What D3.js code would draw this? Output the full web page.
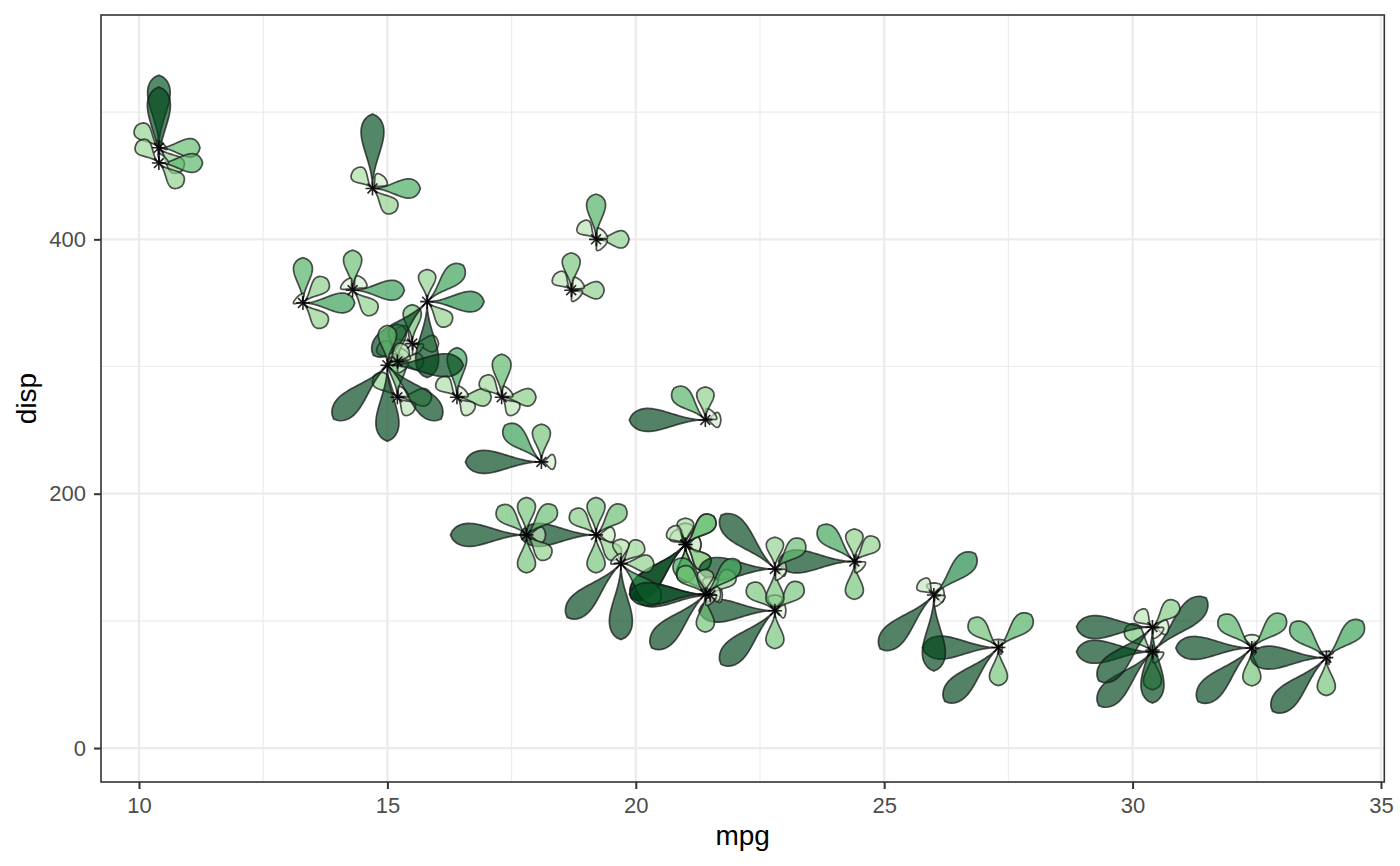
<!DOCTYPE html>
<html>
<head>
<meta charset="utf-8">
<script src="https://cdn.jsdelivr.net/npm/d3@7"></script>
<style>
  body { margin: 0; background: #fff; }
  text { font-family: "Liberation Sans", Arial, Helvetica, sans-serif; }
</style>
</head>
<body>
<div id="chart"></div>
<script>
// mtcars, one flower per car: x = mpg, y = disp, petals = the other columns
var cars = ["Mazda RX4", "Mazda RX4 Wag", "Datsun 710", "Hornet 4 Drive", "Hornet Sportabout",
  "Valiant", "Duster 360", "Merc 240D", "Merc 230", "Merc 280", "Merc 280C", "Merc 450SE",
  "Merc 450SL", "Merc 450SLC", "Cadillac Fleetwood", "Lincoln Continental", "Chrysler Imperial",
  "Fiat 128", "Honda Civic", "Toyota Corolla", "Toyota Corona", "Dodge Challenger", "AMC Javelin",
  "Camaro Z28", "Pontiac Firebird", "Fiat X1-9", "Porsche 914-2", "Lotus Europa", "Ford Pantera L",
  "Ferrari Dino", "Maserati Bora", "Volvo 142E"];
var mpg  = [21.0, 21.0, 22.8, 21.4, 18.7, 18.1, 14.3, 24.4, 22.8, 19.2, 17.8, 16.4, 17.3, 15.2, 10.4, 10.4,
  14.7, 32.4, 30.4, 33.9, 21.5, 15.5, 15.2, 13.3, 19.2, 27.3, 26.0, 30.4, 15.8, 19.7, 15.0, 21.4];
var disp = [160, 160, 108, 258, 360, 225, 360, 146.7, 140.8, 167.6, 167.6, 275.8, 275.8, 275.8, 472, 460,
  440, 78.7, 75.7, 71.1, 120.1, 318, 304, 350, 400, 79, 120.3, 95.1, 351, 145, 301, 121];
var hp   = [110, 110, 93, 110, 175, 105, 245, 62, 95, 123, 123, 180, 180, 180, 205, 215,
  230, 66, 52, 65, 97, 150, 150, 245, 175, 66, 91, 113, 264, 175, 335, 109];
var drat = [3.90, 3.90, 3.85, 3.08, 3.15, 2.76, 3.21, 3.69, 3.92, 3.92, 3.92, 3.07, 3.07, 3.07, 2.93, 3.00,
  3.23, 4.08, 4.93, 4.22, 3.70, 2.76, 3.15, 3.73, 3.08, 4.08, 4.43, 3.77, 4.22, 3.62, 3.54, 4.11];
var wt   = [2.620, 2.875, 2.320, 3.215, 3.440, 3.460, 3.570, 3.190, 3.150, 3.440, 3.440, 4.070, 3.730, 3.780,
  5.250, 5.424, 5.345, 2.200, 1.615, 1.835, 2.465, 3.520, 3.435, 3.840, 3.845, 1.935, 2.140, 1.513,
  3.170, 2.770, 3.570, 2.780];
var qsec = [16.46, 17.02, 18.61, 19.44, 17.02, 20.22, 15.84, 20.00, 22.90, 18.30, 18.90, 17.40, 17.60, 18.00,
  17.98, 17.82, 17.42, 19.47, 18.52, 19.90, 20.01, 16.87, 17.30, 15.41, 17.05, 18.90, 16.70, 16.90,
  14.50, 15.50, 14.60, 18.60];
var vs   = [0, 0, 1, 1, 0, 1, 0, 1, 1, 1, 1, 0, 0, 0, 0, 0, 0, 1, 1, 1, 1, 0, 0, 0, 0, 1, 0, 1, 0, 0, 0, 1];
var am   = [1, 1, 1, 0, 0, 0, 0, 0, 0, 0, 0, 0, 0, 0, 0, 0, 0, 1, 1, 1, 0, 0, 0, 0, 0, 1, 1, 1, 1, 1, 1, 1];
var gear = [4, 4, 4, 3, 3, 3, 3, 4, 4, 4, 4, 3, 3, 3, 3, 3, 3, 4, 4, 4, 3, 3, 3, 3, 3, 4, 5, 5, 5, 5, 5, 4];
var carb = [4, 4, 1, 1, 2, 1, 4, 2, 2, 4, 4, 3, 3, 3, 4, 4, 4, 1, 2, 1, 1, 2, 2, 4, 2, 1, 2, 2, 4, 6, 8, 2];

// petals go counter-clockwise from 3 o'clock, one every 45 degrees
var petalCols = [hp, drat, wt, qsec, vs, am, gear, carb];

var xTicks = [10, 15, 20, 25, 30, 35];
var yTicks = [0, 200, 400];

var width = 1400, height = 866;
var panel = {left: 101, right: 1384.3, top: 15, bottom: 782};

var svg = d3.select("#chart")
    .append("svg")
    .attr("width", width)
    .attr("height", height);

var x = d3.scaleLinear()
    .domain([9.235, 35.067])
    .range([panel.left, panel.right]);
var y = d3.scaleLinear()
    .domain([-26.7, 576.4])
    .range([panel.bottom, panel.top]);

// grid
var xMinor = d3.range(12.5, 35, 5);
var yMinor = [100, 300, 500];
var grid = svg.append("g");
grid.selectAll("line.xminor").data(xMinor).enter().append("line")
    .attr("x1", d => x(d)).attr("x2", d => x(d))
    .attr("y1", panel.top).attr("y2", panel.bottom)
    .attr("stroke", "#ebebeb").attr("stroke-width", 1.1);
grid.selectAll("line.yminor").data(yMinor).enter().append("line")
    .attr("y1", d => y(d)).attr("y2", d => y(d))
    .attr("x1", panel.left).attr("x2", panel.right)
    .attr("stroke", "#ebebeb").attr("stroke-width", 1.1);
grid.selectAll("line.xmajor").data(xTicks).enter().append("line")
    .attr("x1", d => x(d)).attr("x2", d => x(d))
    .attr("y1", panel.top).attr("y2", panel.bottom)
    .attr("stroke", "#ebebeb").attr("stroke-width", 2.2);
grid.selectAll("line.ymajor").data(yTicks).enter().append("line")
    .attr("y1", d => y(d)).attr("y2", d => y(d))
    .attr("x1", panel.left).attr("x2", panel.right)
    .attr("stroke", "#ebebeb").attr("stroke-width", 2.2);

// normalise every petal column to 0..1
var scaled = petalCols.map(function (col) {
    var s = d3.scaleLinear().domain(d3.extent(col)).range([0, 1]);
    return col.map(s);
});

// teardrop petal along +x, length L, half width w
var N = 40, pa = 2.2, pb = 0.7;
var tMax = pa / (pa + pb);
var fMax = Math.pow(tMax, pa) * Math.pow(1 - tMax, pb);
var petalLine = d3.line().curve(d3.curveLinearClosed);
function petalPath(L, w) {
    var up = [], down = [];
    for (var k = 0; k <= N; k++) {
        var t = k / N;
        var h = w * Math.pow(t, pa) * Math.pow(1 - t, pb) / fMax;
        up.push([L * t, -h]);
        down.push([L * t, h]);
    }
    return petalLine(up.concat(down.reverse()));
}

var flowers = svg.append("g");
cars.forEach(function (name, i) {
    var cx = x(mpg[i]), cy = y(disp[i]);
    var g = flowers.append("g")
        .attr("transform", "translate(" + cx + "," + cy + ")");
    petalCols.forEach(function (col, j) {
        var v = scaled[j][i];
        if (v < 0.01) return;
        g.append("path")
            .attr("d", petalPath(76 * v, 6.5 + 5 * v))
            .attr("transform", "rotate(" + (-45 * j) + ")")
            .attr("fill", d3.interpolateGreens(v))
            .attr("fill-opacity", 0.67)
            .attr("stroke", "#1a1a1a")
            .attr("stroke-opacity", 0.75)
            .attr("stroke-width", 1.7);
    });
});

// asterisk at every flower centre
var r = 7, rd = r * Math.SQRT1_2;
svg.append("g").selectAll("path")
    .data(cars)
    .enter()
    .append("path")
    .attr("d", function (d, i) {
        var cx = x(mpg[i]), cy = y(disp[i]);
        return "M" + (cx - r) + "," + cy + "L" + (cx + r) + "," + cy +
            "M" + cx + "," + (cy - r) + "L" + cx + "," + (cy + r) +
            "M" + (cx - rd) + "," + (cy - rd) + "L" + (cx + rd) + "," + (cy + rd) +
            "M" + (cx - rd) + "," + (cy + rd) + "L" + (cx + rd) + "," + (cy - rd);
    })
    .attr("stroke", "#000")
    .attr("stroke-opacity", 0.85)
    .attr("stroke-width", 1.6)
    .attr("fill", "none");

// panel border
svg.append("rect")
    .attr("x", panel.left).attr("y", panel.top)
    .attr("width", panel.right - panel.left)
    .attr("height", panel.bottom - panel.top)
    .attr("fill", "none")
    .attr("stroke", "#333333")
    .attr("stroke-width", 1.6);

// axes
var xAxis = svg.append("g")
    .attr("transform", "translate(0," + panel.bottom + ")")
    .call(d3.axisBottom(x).tickValues(xTicks).tickSize(7).tickPadding(8));
var yAxis = svg.append("g")
    .attr("transform", "translate(" + panel.left + ",0)")
    .call(d3.axisLeft(y).tickValues(yTicks).tickSize(7).tickPadding(8));
[xAxis, yAxis].forEach(function (ax) {
    ax.select(".domain").remove();
    ax.selectAll(".tick line").attr("stroke", "#333333").attr("stroke-width", 2);
    ax.selectAll(".tick text")
        .attr("fill", "#4d4d4d")
        .style("font-size", "22px")
        .style("font-family", "'Liberation Sans', Arial, sans-serif");
});

svg.append("text")
    .attr("x", (panel.left + panel.right) / 2)
    .attr("y", 845)
    .attr("text-anchor", "middle")
    .style("font-size", "28px")
    .attr("fill", "#000")
    .text("mpg");
svg.append("text")
    .attr("transform", "translate(36," + (panel.top + panel.bottom) / 2 + ")rotate(-90)")
    .attr("text-anchor", "middle")
    .style("font-size", "28px")
    .attr("fill", "#000")
    .text("disp");
</script>
</body>
</html>
